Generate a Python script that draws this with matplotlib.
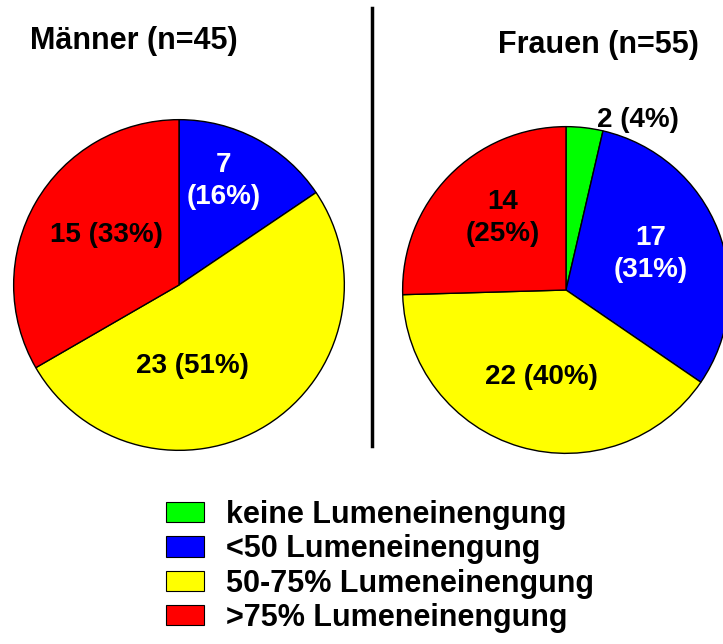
"""Lumeneinengung: Männer vs. Frauen, two pies with shared legend."""
import matplotlib
matplotlib.use("Agg")
import matplotlib.pyplot as plt
from matplotlib.patches import Patch
from matplotlib.lines import Line2D

plt.rcParams.update({
    "font.family": ["Liberation Sans", "DejaVu Sans"],
    "font.weight": "bold",
})

# ── data ──────────────────────────────────────────────────────────────────
categories = ["keine Lumeneinengung", "<50 Lumeneinengung",
              "50-75% Lumeneinengung", ">75% Lumeneinengung"]
colors = ["#00FF00", "#0000FF", "#FFFF00", "#FF0000"]

maenner_counts = [0, 7, 23, 15]
maenner_pct = [0, 16, 51, 33]
frauen_counts = [2, 17, 22, 14]
frauen_pct = [4, 31, 40, 25]

# label layout (data coords of the unit pie), None = no label
maenner_label_pos = [None, (0.27, 0.63), (0.08, -0.49), (-0.44, 0.30)]
maenner_label_break = [False, True, False, False]
maenner_label_col = ["black", "white", "black", "black"]
frauen_label_pos = [(0.44, 1.04), (0.52, 0.22), (-0.15, -0.53), (-0.39, 0.44)]
frauen_label_break = [False, True, False, True]
frauen_label_col = ["black", "white", "black", "black"]

W, H = 723, 644
fig = plt.figure(figsize=(W / 100, H / 100), dpi=100)


def pie_axes(cx, cy, r):
    return fig.add_axes([(cx - r) / W, 1 - (cy + r) / H, 2 * r / W, 2 * r / H])


def draw_pie(ax, counts, pct, pos, brk, tcol):
    vals = [c for c in counts if c > 0]
    cols = [col for c, col in zip(counts, colors) if c > 0]
    ax.pie(vals, colors=cols, startangle=90, counterclock=False, radius=1,
           wedgeprops=dict(edgecolor="black", linewidth=1.0))
    ax.set_xlim(-1.01, 1.01)
    ax.set_ylim(-1.01, 1.01)
    ax.set_aspect("equal")
    ax.axis("off")
    for c, p, xy, b, tc in zip(counts, pct, pos, brk, tcol):
        if c == 0 or xy is None:
            continue
        sep = "\n" if b else " "
        ax.text(xy[0], xy[1], f"{c}{sep}({p}%)", ha="center", va="center",
                fontsize=20, fontweight="bold", color=tc, linespacing=1.3,
                clip_on=False)


ax1 = pie_axes(179, 285, 167)
draw_pie(ax1, maenner_counts, maenner_pct, maenner_label_pos,
         maenner_label_break, maenner_label_col)
ax2 = pie_axes(566, 290, 165)
draw_pie(ax2, frauen_counts, frauen_pct, frauen_label_pos,
         frauen_label_break, frauen_label_col)

# titles
fig.text(134 / W, 1 - 41 / H, "Männer (n=45)", ha="center", va="center",
         fontsize=22, fontweight="bold")
fig.text(598 / W, 1 - 45 / H, "Frauen (n=55)", ha="center", va="center",
         fontsize=22, fontweight="bold")

# divider
fig.add_artist(Line2D([372 / W, 372 / W], [1 - 8 / H, 1 - 446 / H],
                      color="black", lw=2.5))

# legend
handles = [Patch(facecolor=c, edgecolor="black", linewidth=0.8) for c in colors]
fig.legend(handles, categories, loc="upper left",
           bbox_to_anchor=(166 / W, 1 - 500 / H), frameon=False,
           prop=dict(size=22, weight="bold"), handlelength=1.25,
           handleheight=0.65, handletextpad=0.72, labelspacing=0.14,
           borderpad=0, borderaxespad=0)

fig.savefig("out.png", dpi=100)
